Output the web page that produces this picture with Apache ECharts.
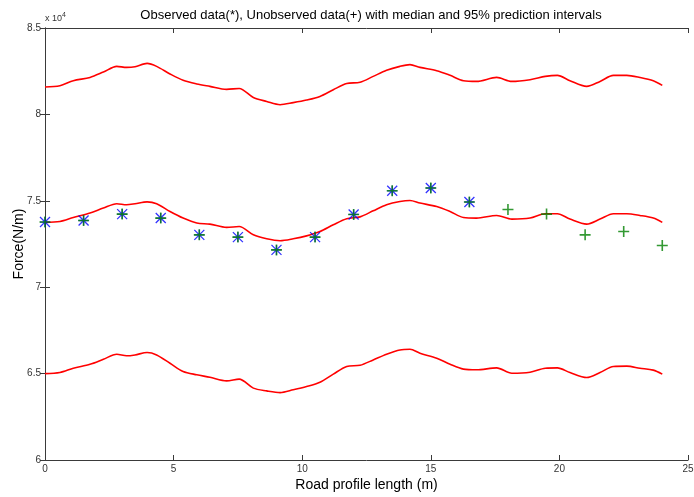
<!DOCTYPE html>
<html>
<head>
<meta charset="utf-8">
<script src="https://cdn.jsdelivr.net/npm/echarts@6/dist/echarts.min.js"></script>
<style>
html,body{margin:0;padding:0;background:#fff;}
#chart{width:694px;height:497px;}
</style>
</head>
<body>
<div id="chart"></div>
<script>
// Curve sample positions (m)
var curveX = [0,0.58,1.1,1.75,2.27,2.79,3.17,3.5,3.97,4.34,4.86,5.37,5.9,6.41,7.06,7.55,8.1,8.62,9.14,9.65,10.17,10.69,11.21,11.73,12.25,12.76,13.28,13.8,14.19,14.58,15.23,15.75,16.27,16.78,17.56,18.15,18.86,19.45,19.92,20.41,21.06,21.58,22.1,22.62,23.13,23.65,24.0];
var upperY = [81584,81660,81950,82140,82450,82780,82720,82760,82950,82780,82340,81970,81760,81620,81450,81500,80980,80750,80560,80680,80830,81040,81430,81790,81860,82200,82550,82780,82880,82720,82530,82260,81950,81910,82140,81910,82010,82200,82260,81950,81620,81910,82260,82260,82140,81950,81680];
var medianY = [73750,73800,74030,74290,74580,74830,74770,74830,74940,74830,74380,74000,73710,73650,73460,73510,73030,72800,72690,72800,72970,73220,73610,73960,74070,74420,74770,74960,75020,74870,74670,74380,74030,74000,74150,73940,74000,74250,74250,73940,73650,73940,74250,74250,74150,74000,73750];
var lowerY = [65000,65060,65310,65540,65830,66120,66030,66080,66220,66080,65600,65120,64930,64790,64580,64680,64160,64000,63900,64060,64250,64500,64970,65410,65480,65790,66120,66370,66410,66180,65890,65540,65260,65220,65330,65020,65080,65310,65330,65060,64770,65060,65410,65430,65310,65200,64970];

var obsX = [0,1.5,3,4.5,6,7.5,9,10.5,12,13.5,15,16.5];
var obsY = [73770,73860,74230,74000,73030,72900,72160,72900,74210,75580,75740,74930];
var unobsX = [18,19.5,21,22.5,24];
var unobsY = [74500,74230,73030,73220,72410];

var titleText = 'Observed data(*), Unobserved data(+) with median and 95% prediction intervals';
var xName = 'Road profile length (m)';
var yName = 'Force(N/m)';

function pairs(xs, ys){ return xs.map(function(x,i){ return [x, ys[i]]; }); }

var FONT = '"Liberation Sans", Arial, sans-serif';
var AX = '#3a3a3a';
var plusPath = 'path://M5,0L5,10M0,5L10,5';
var starPath = 'path://M0,0L10,10M10,0L0,10M5,0L5,10M0,5L10,5';

function lineSeries(ys){
  return {type:'line', data:pairs(curveX, ys), showSymbol:false, symbol:'none', smooth:0.3,
    lineStyle:{color:'#ff0000', width:1.6}, silent:true, animation:false, z:2};
}

var chart = echarts.init(document.getElementById('chart'), null, {renderer:'canvas'});
chart.setOption({
  animation:false,
  backgroundColor:'#ffffff',
  title:{text:titleText, left:366, textAlign:'center', top:4,
    textStyle:{fontFamily:FONT, fontSize:13, fontWeight:'normal', color:'#000'}},
  grid:{left:45, right:6, top:28, bottom:37, containLabel:false, outerBoundsMode:'none'},
  graphic:[{type:'text', left:45, top:12, style:{text:'x 10{s|4}', rich:{s:{fontSize:7, verticalAlign:'top', padding:[0,0,6,0], fill:'#333'}}, fontFamily:FONT, fontSize:9, fill:'#333'}}],
  xAxis:[
    {type:'value', min:0, max:25, interval:5, position:'bottom',
     name:xName, nameLocation:'middle', nameGap:18, nameMoveOverlap:false,
     nameTextStyle:{fontFamily:FONT, fontSize:14, color:'#000'},
     axisLine:{show:true, lineStyle:{color:AX, width:1}},
     axisTick:{show:true, inside:true, length:5, lineStyle:{color:AX}},
     axisLabel:{fontFamily:FONT, fontSize:10, color:'#333', margin:4},
     splitLine:{show:false}},
    {type:'value', min:0, max:25, interval:5, position:'top',
     axisLine:{show:true, lineStyle:{color:AX, width:1}},
     axisTick:{show:true, inside:true, length:5, lineStyle:{color:AX}},
     axisLabel:{show:false}, splitLine:{show:false}}
  ],
  yAxis:[
    {type:'value', min:60000, max:85000, interval:5000, position:'left',
     name:yName, nameLocation:'middle', nameGap:19, nameRotate:90, nameMoveOverlap:false,
     nameTextStyle:{fontFamily:FONT, fontSize:14, color:'#000'},
     axisLine:{show:true, lineStyle:{color:AX, width:1}},
     axisTick:{show:true, inside:true, length:5, lineStyle:{color:AX}},
     axisLabel:{fontFamily:FONT, fontSize:10, color:'#333', margin:4,
       formatter:function(v){ return String(v/10000); }},
     splitLine:{show:false}},
    {type:'value', min:60000, max:85000, interval:5000, position:'right',
     axisLine:{show:true, lineStyle:{color:AX, width:1}},
     axisTick:{show:true, inside:true, length:5, lineStyle:{color:AX}},
     axisLabel:{show:false}, splitLine:{show:false}}
  ],
  series:[
    lineSeries(upperY),
    lineSeries(medianY),
    lineSeries(lowerY),
    {type:'scatter', data:pairs(obsX, obsY), symbol:starPath, symbolSize:10,
     itemStyle:{color:'none', borderColor:'#0000ff', borderWidth:1.3}, z:3, silent:true},
    {type:'scatter', data:pairs(obsX, obsY).concat(pairs(unobsX, unobsY)), symbol:plusPath, symbolSize:11,
     itemStyle:{color:'none', borderColor:'#008000', borderWidth:1.6}, z:4, silent:true}
  ]
});
</script>
</body>
</html>
